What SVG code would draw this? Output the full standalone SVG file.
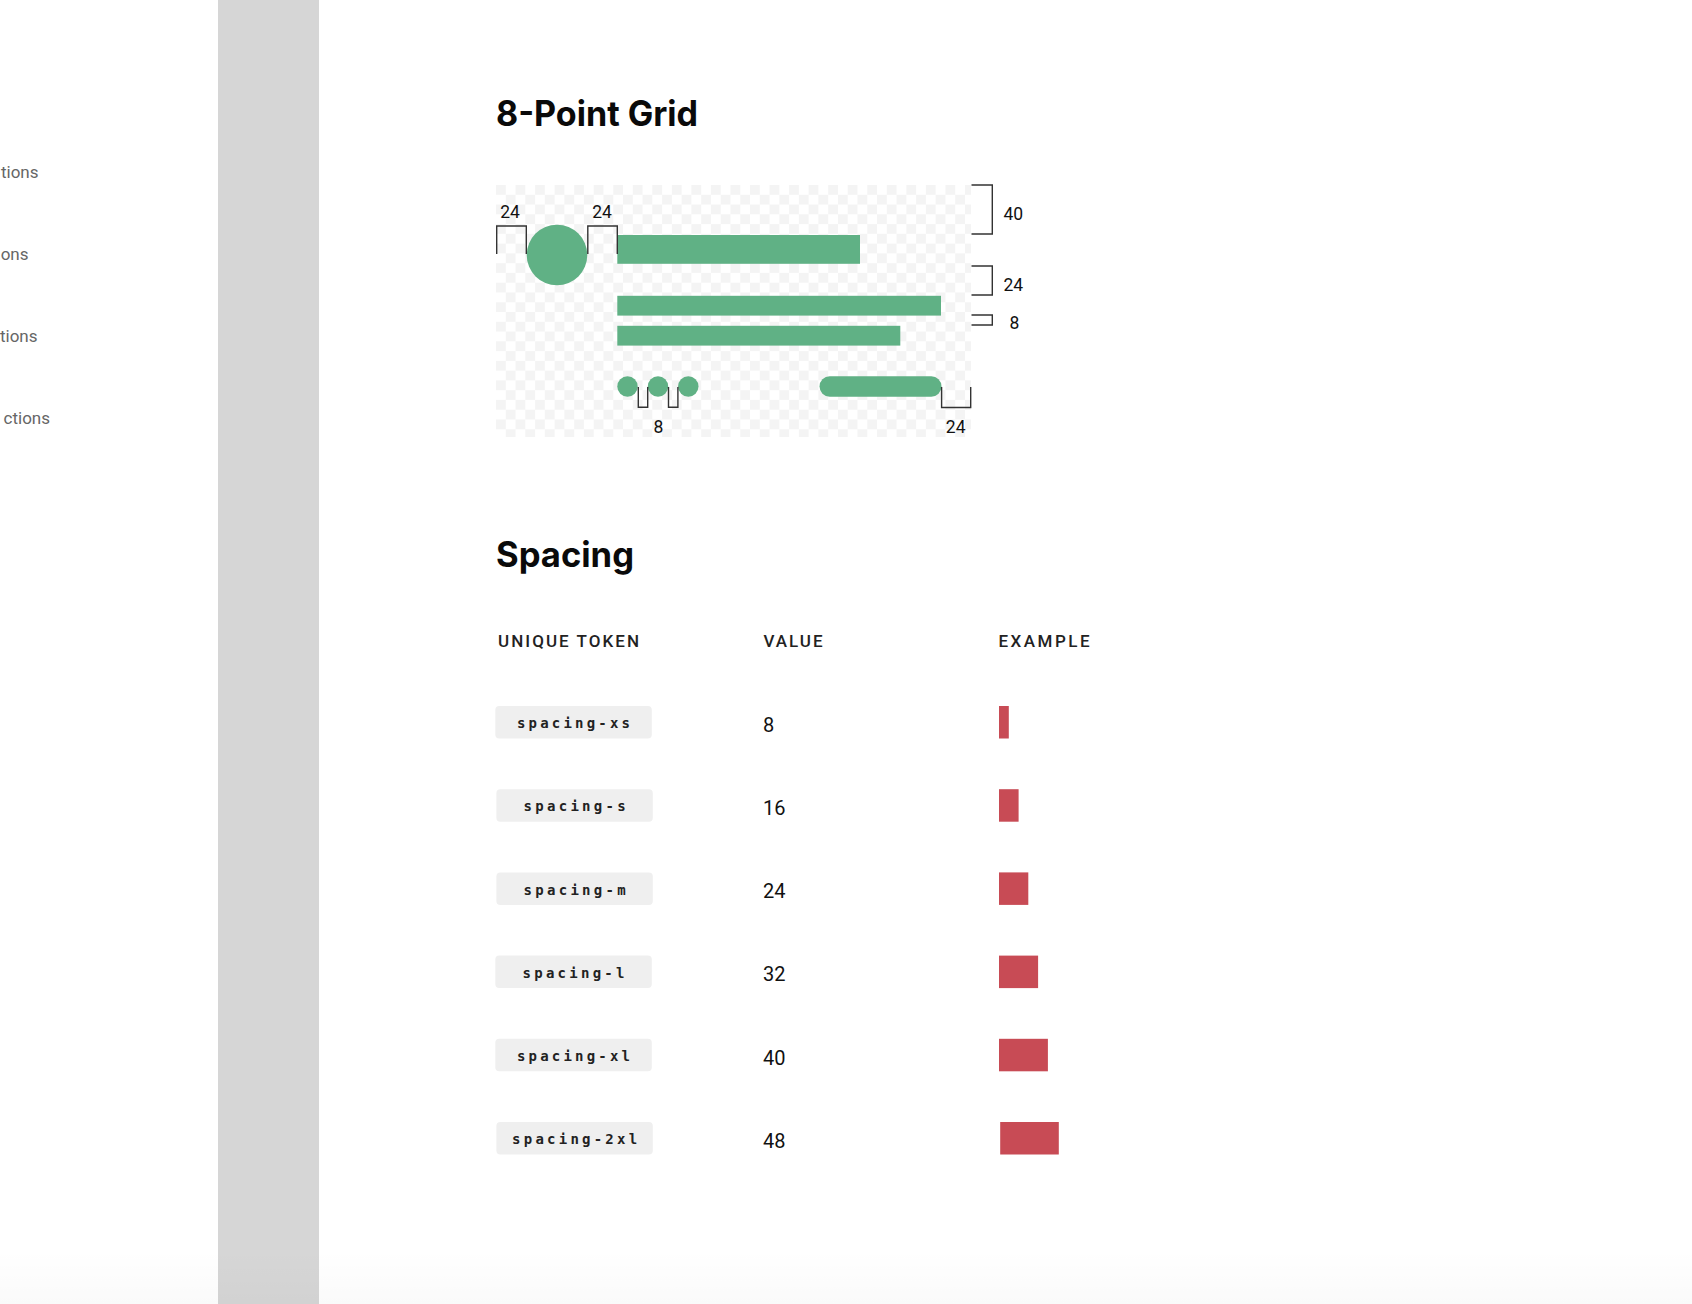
<svg xmlns="http://www.w3.org/2000/svg" width="1692" height="1304" viewBox="0 0 1692 1304">
<style>
.nav{font-family:Roboto,"Liberation Sans",sans-serif;font-size:17px;fill:#666;text-anchor:end}
.h1{font-family:Inter,"Liberation Sans",sans-serif;font-weight:700;font-size:35px;fill:#0a0a0a}
.lbl{font-family:Roboto,"Liberation Sans",sans-serif;font-size:17.5px;fill:#111}
.th{font-family:Roboto,"Liberation Sans",sans-serif;font-weight:500;font-size:17px;fill:#222}
.tok{font-family:"DejaVu Sans Mono","Liberation Mono",monospace;font-weight:700;font-size:14px;fill:#222;text-anchor:middle}
.val{font-family:Roboto,"Liberation Sans",sans-serif;font-size:20px;fill:#111}
.pill{fill:#efefef}
.bar{fill:#c84b55}
.g{fill:#60b185}
.br{fill:none;stroke:#333;stroke-width:1.4}
</style>
<defs>
<pattern id="chk" x="496" y="185" width="19.54" height="19.54" patternUnits="userSpaceOnUse">
<rect width="19.54" height="19.54" fill="#ffffff"/>
<rect width="9.77" height="9.77" fill="#f4f4f4"/>
<rect x="9.77" y="9.77" width="9.77" height="9.77" fill="#f4f4f4"/>
</pattern>
<linearGradient id="fade" x1="0" y1="0" x2="0" y2="1">
<stop offset="0" stop-color="#000" stop-opacity="0"/>
<stop offset="1" stop-color="#000" stop-opacity="0.02"/>
</linearGradient>
</defs>
<rect width="1692" height="1304" fill="#ffffff"/>
<g id="nav">
<text class="nav" x="38.5" y="178">tions</text>
<text class="nav" x="28.5" y="260">ons</text>
<text class="nav" x="37.5" y="342">tions</text>
<text class="nav" x="50" y="424">ctions</text>
</g>
<rect id="sidebar" x="218" y="0" width="101" height="1304" fill="#d6d6d6"/>
<text class="h1" x="496" y="126" textLength="202" lengthAdjust="spacingAndGlyphs">8-Point Grid</text>
<g id="grid">
<rect x="496" y="185" width="475" height="252" fill="url(#chk)"/>
<circle class="g" cx="557" cy="255" r="30.3"/>
<rect class="g" x="617.3" y="235" width="242.7" height="28.8"/>
<rect class="g" x="617.3" y="295.8" width="323.7" height="19.8"/>
<rect class="g" x="617.3" y="325.8" width="283" height="19.8"/>
<circle class="g" cx="627.5" cy="386.5" r="10.2"/>
<circle class="g" cx="658" cy="386.5" r="10.2"/>
<circle class="g" cx="688.3" cy="386.5" r="10.2"/>
<rect class="g" x="819.5" y="376.3" width="122" height="20.4" rx="10.2"/>
</g>
<g id="connectors">
<path class="br" d="M496.7 254 V226 H526.3 V254"/>
<path class="br" d="M587.8 254 V226 H617.3 V254"/>
<path class="br" d="M971.5 185 H992.3 V234 H971.5"/>
<path class="br" d="M971.5 266 H992.3 V295 H971.5"/>
<path class="br" d="M971.5 315 H992.3 V325 H971.5"/>
<path class="br" d="M638.3 387 V407.3 H647.7 V387"/>
<path class="br" d="M668.5 387 V407.3 H677.9 V387"/>
<path class="br" d="M941.6 387 V407.5 H970.7 V387"/>
</g>
<g id="grid-labels">
<text class="lbl" x="510" y="218" text-anchor="middle">24</text>
<text class="lbl" x="602" y="218" text-anchor="middle">24</text>
<text class="lbl" x="1003.5" y="220">40</text>
<text class="lbl" x="1003.5" y="291">24</text>
<text class="lbl" x="1009.5" y="329">8</text>
<text class="lbl" x="658.5" y="433" text-anchor="middle">8</text>
<text class="lbl" x="955.7" y="433" text-anchor="middle">24</text>
</g>
<text class="h1" x="496" y="567" textLength="138" lengthAdjust="spacingAndGlyphs">Spacing</text>
<g id="table-head">
<text class="th" x="498" y="646.5" textLength="141" lengthAdjust="spacing">UNIQUE TOKEN</text>
<text class="th" x="763.5" y="646.5" textLength="59" lengthAdjust="spacing">VALUE</text>
<text class="th" x="998.5" y="646.5" textLength="91" lengthAdjust="spacing">EXAMPLE</text>
</g>
<g id="row-xs">
<rect class="pill" x="495.3" y="706" width="156.5" height="32.5" rx="4"/>
<text class="tok" x="573.5" y="728.2" textLength="113" lengthAdjust="spacing">spacing-xs</text>
<text class="val" x="763" y="731.7">8</text>
<rect class="bar" x="999" y="706" width="9.8" height="32.5"/>
</g>
<g id="row-s">
<rect class="pill" x="496.4" y="789.2" width="156.4" height="32.5" rx="4"/>
<text class="tok" x="574.6" y="811.4" textLength="102" lengthAdjust="spacing">spacing-s</text>
<text class="val" x="763" y="814.9">16</text>
<rect class="bar" x="999" y="789.2" width="19.6" height="32.5"/>
</g>
<g id="row-m">
<rect class="pill" x="496.4" y="872.4" width="156.4" height="32.5" rx="4"/>
<text class="tok" x="574.6" y="894.6" textLength="102" lengthAdjust="spacing">spacing-m</text>
<text class="val" x="763" y="898.1">24</text>
<rect class="bar" x="999" y="872.4" width="29.3" height="32.5"/>
</g>
<g id="row-l">
<rect class="pill" x="495.3" y="955.6" width="156.5" height="32.5" rx="4"/>
<text class="tok" x="573.5" y="977.8" textLength="102" lengthAdjust="spacing">spacing-l</text>
<text class="val" x="763" y="981.3">32</text>
<rect class="bar" x="999" y="955.6" width="39.1" height="32.5"/>
</g>
<g id="row-xl">
<rect class="pill" x="495.3" y="1038.8" width="156.5" height="32.5" rx="4"/>
<text class="tok" x="573.5" y="1061" textLength="113" lengthAdjust="spacing">spacing-xl</text>
<text class="val" x="763" y="1064.5">40</text>
<rect class="bar" x="999" y="1038.8" width="48.9" height="32.5"/>
</g>
<g id="row-2xl">
<rect class="pill" x="496.4" y="1122" width="156.4" height="32.5" rx="4"/>
<text class="tok" x="574.6" y="1144.2" textLength="125" lengthAdjust="spacing">spacing-2xl</text>
<text class="val" x="763" y="1147.7">48</text>
<rect class="bar" x="1000.2" y="1122" width="58.6" height="32.5"/>
</g>
<rect x="0" y="1250" width="1692" height="54" fill="url(#fade)"/>
</svg>
